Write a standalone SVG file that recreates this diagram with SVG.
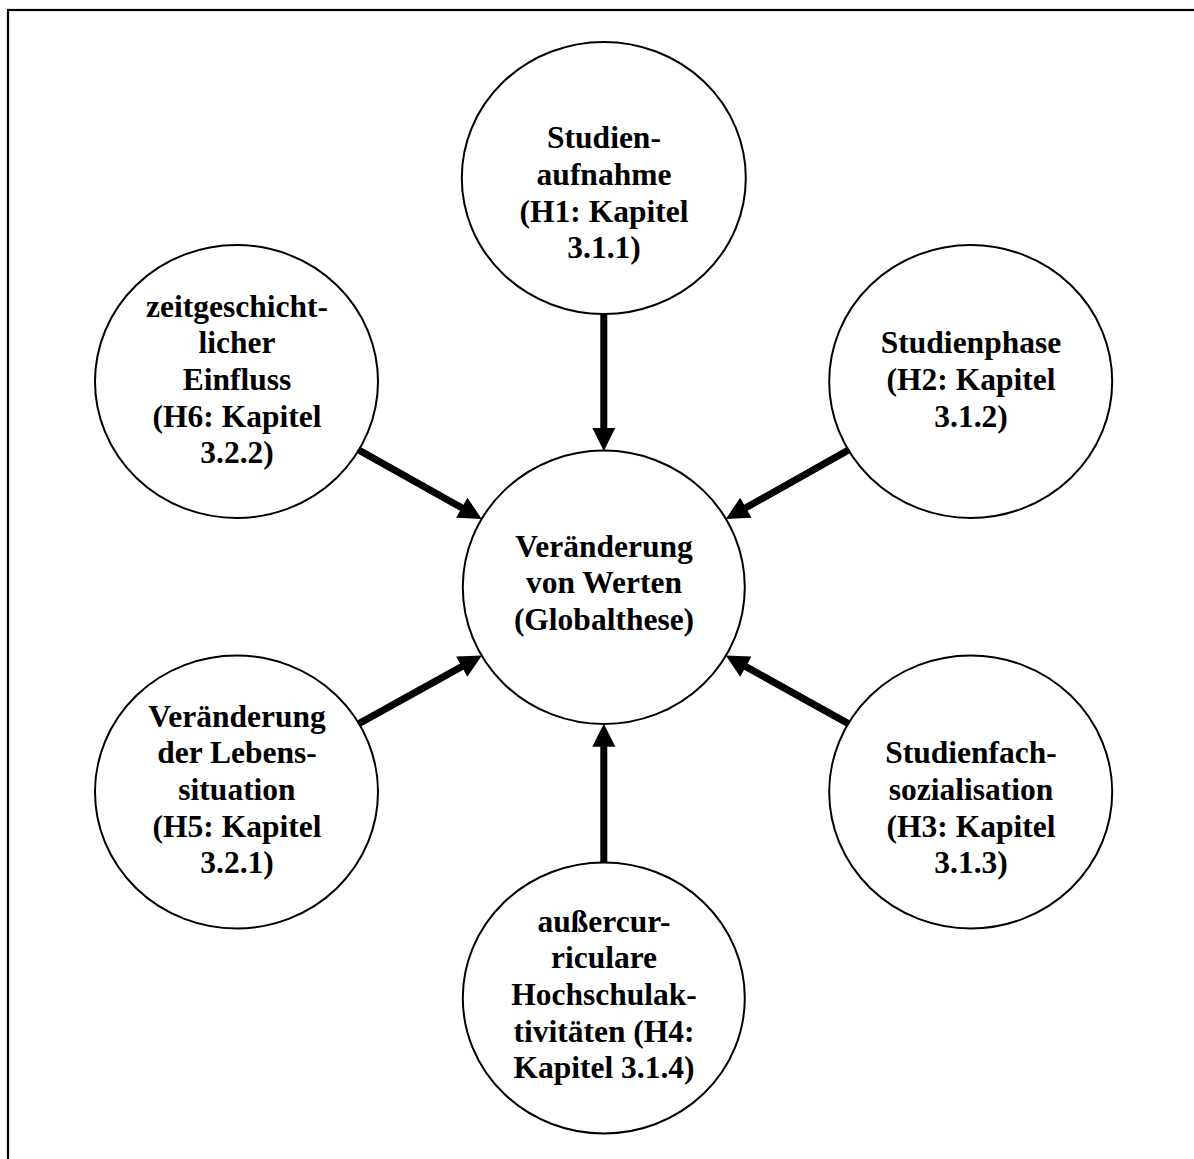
<svg xmlns="http://www.w3.org/2000/svg" width="1194" height="1159" viewBox="0 0 1194 1159">
<defs>
<style>
.frame{fill:none;stroke:#000;stroke-width:2.2}
.node ellipse{fill:#fff;stroke:#000;stroke-width:2}
.node text{font-family:"Liberation Serif","Times New Roman",serif;font-weight:bold;font-size:31.5px;fill:#000;text-anchor:middle}
.edge{stroke:#000;stroke-width:7;fill:none;marker-end:url(#ah)}
</style>
<marker id="ah" markerUnits="userSpaceOnUse" markerWidth="24" markerHeight="24" refX="0" refY="12" orient="auto" overflow="visible">
<path d="M-0.5,0.5 L22.5,12 L-0.5,23.5 Z" fill="#000"/>
</marker>
</defs>
<rect width="1194" height="1159" fill="#fff"/>
<rect class="frame" x="8" y="10" width="1200" height="1200"/>
<g id="connectors">
<line class="edge" x1="603.8" y1="314" x2="603.8" y2="428.5"/>
<line class="edge" x1="358.9" y1="450.1" x2="462.2" y2="508"/>
<line class="edge" x1="848.3" y1="450.1" x2="745.4" y2="508"/>
<line class="edge" x1="358.9" y1="723.6" x2="462.2" y2="666.4"/>
<line class="edge" x1="848.3" y1="723.6" x2="745.4" y2="666.4"/>
<line class="edge" x1="603.8" y1="862.7" x2="603.8" y2="746.3"/>
</g>
<g id="center" class="node">
<ellipse cx="603.8" cy="587.3" rx="141" ry="136.7"/>
<text x="604"><tspan x="604" y="556.7">Veränderung</tspan><tspan x="604" y="593.3">von Werten</tspan><tspan x="604" y="630">(Globalthese)</tspan></text>
</g>
<g id="h1" class="node">
<ellipse cx="603.8" cy="178" rx="142" ry="136"/>
<text x="604"><tspan x="604" y="148.3">Studien-</tspan><tspan x="604" y="185">aufnahme</tspan><tspan x="604" y="221.7">(H1: Kapitel</tspan><tspan x="604" y="258">3.1.1)</tspan></text>
</g>
<g id="h2" class="node">
<ellipse cx="970.7" cy="381.5" rx="141.5" ry="136.5"/>
<text x="971"><tspan x="971" y="353.3">Studienphase</tspan><tspan x="971" y="390">(H2: Kapitel</tspan><tspan x="971" y="426.7">3.1.2)</tspan></text>
</g>
<g id="h3" class="node">
<ellipse cx="970.7" cy="792" rx="141.5" ry="136.5"/>
<text x="971"><tspan x="971" y="763.3">Studienfach-</tspan><tspan x="971" y="800">sozialisation</tspan><tspan x="971" y="836.7">(H3: Kapitel</tspan><tspan x="971" y="873.3">3.1.3)</tspan></text>
</g>
<g id="h4" class="node">
<ellipse cx="603.8" cy="998" rx="141" ry="135.5"/>
<text x="604"><tspan x="604" y="931.7">außercur-</tspan><tspan x="604" y="968.3">riculare</tspan><tspan x="604" y="1005">Hochschulak-</tspan><tspan x="604" y="1041.7">tivitäten (H4:</tspan><tspan x="604" y="1078.3">Kapitel 3.1.4)</tspan></text>
</g>
<g id="h5" class="node">
<ellipse cx="236.5" cy="792" rx="141.5" ry="136.5"/>
<text x="237"><tspan x="237" y="726.7">Veränderung</tspan><tspan x="237" y="763.3">der Lebens-</tspan><tspan x="237" y="800">situation</tspan><tspan x="237" y="836.7">(H5: Kapitel</tspan><tspan x="237" y="873.3">3.2.1)</tspan></text>
</g>
<g id="h6" class="node">
<ellipse cx="236.5" cy="381.5" rx="141.5" ry="136.5"/>
<text x="237"><tspan x="237" y="316.7">zeitgeschicht-</tspan><tspan x="237" y="353.3">licher</tspan><tspan x="237" y="390">Einfluss</tspan><tspan x="237" y="426.7">(H6: Kapitel</tspan><tspan x="237" y="463.3">3.2.2)</tspan></text>
</g>
</svg>
